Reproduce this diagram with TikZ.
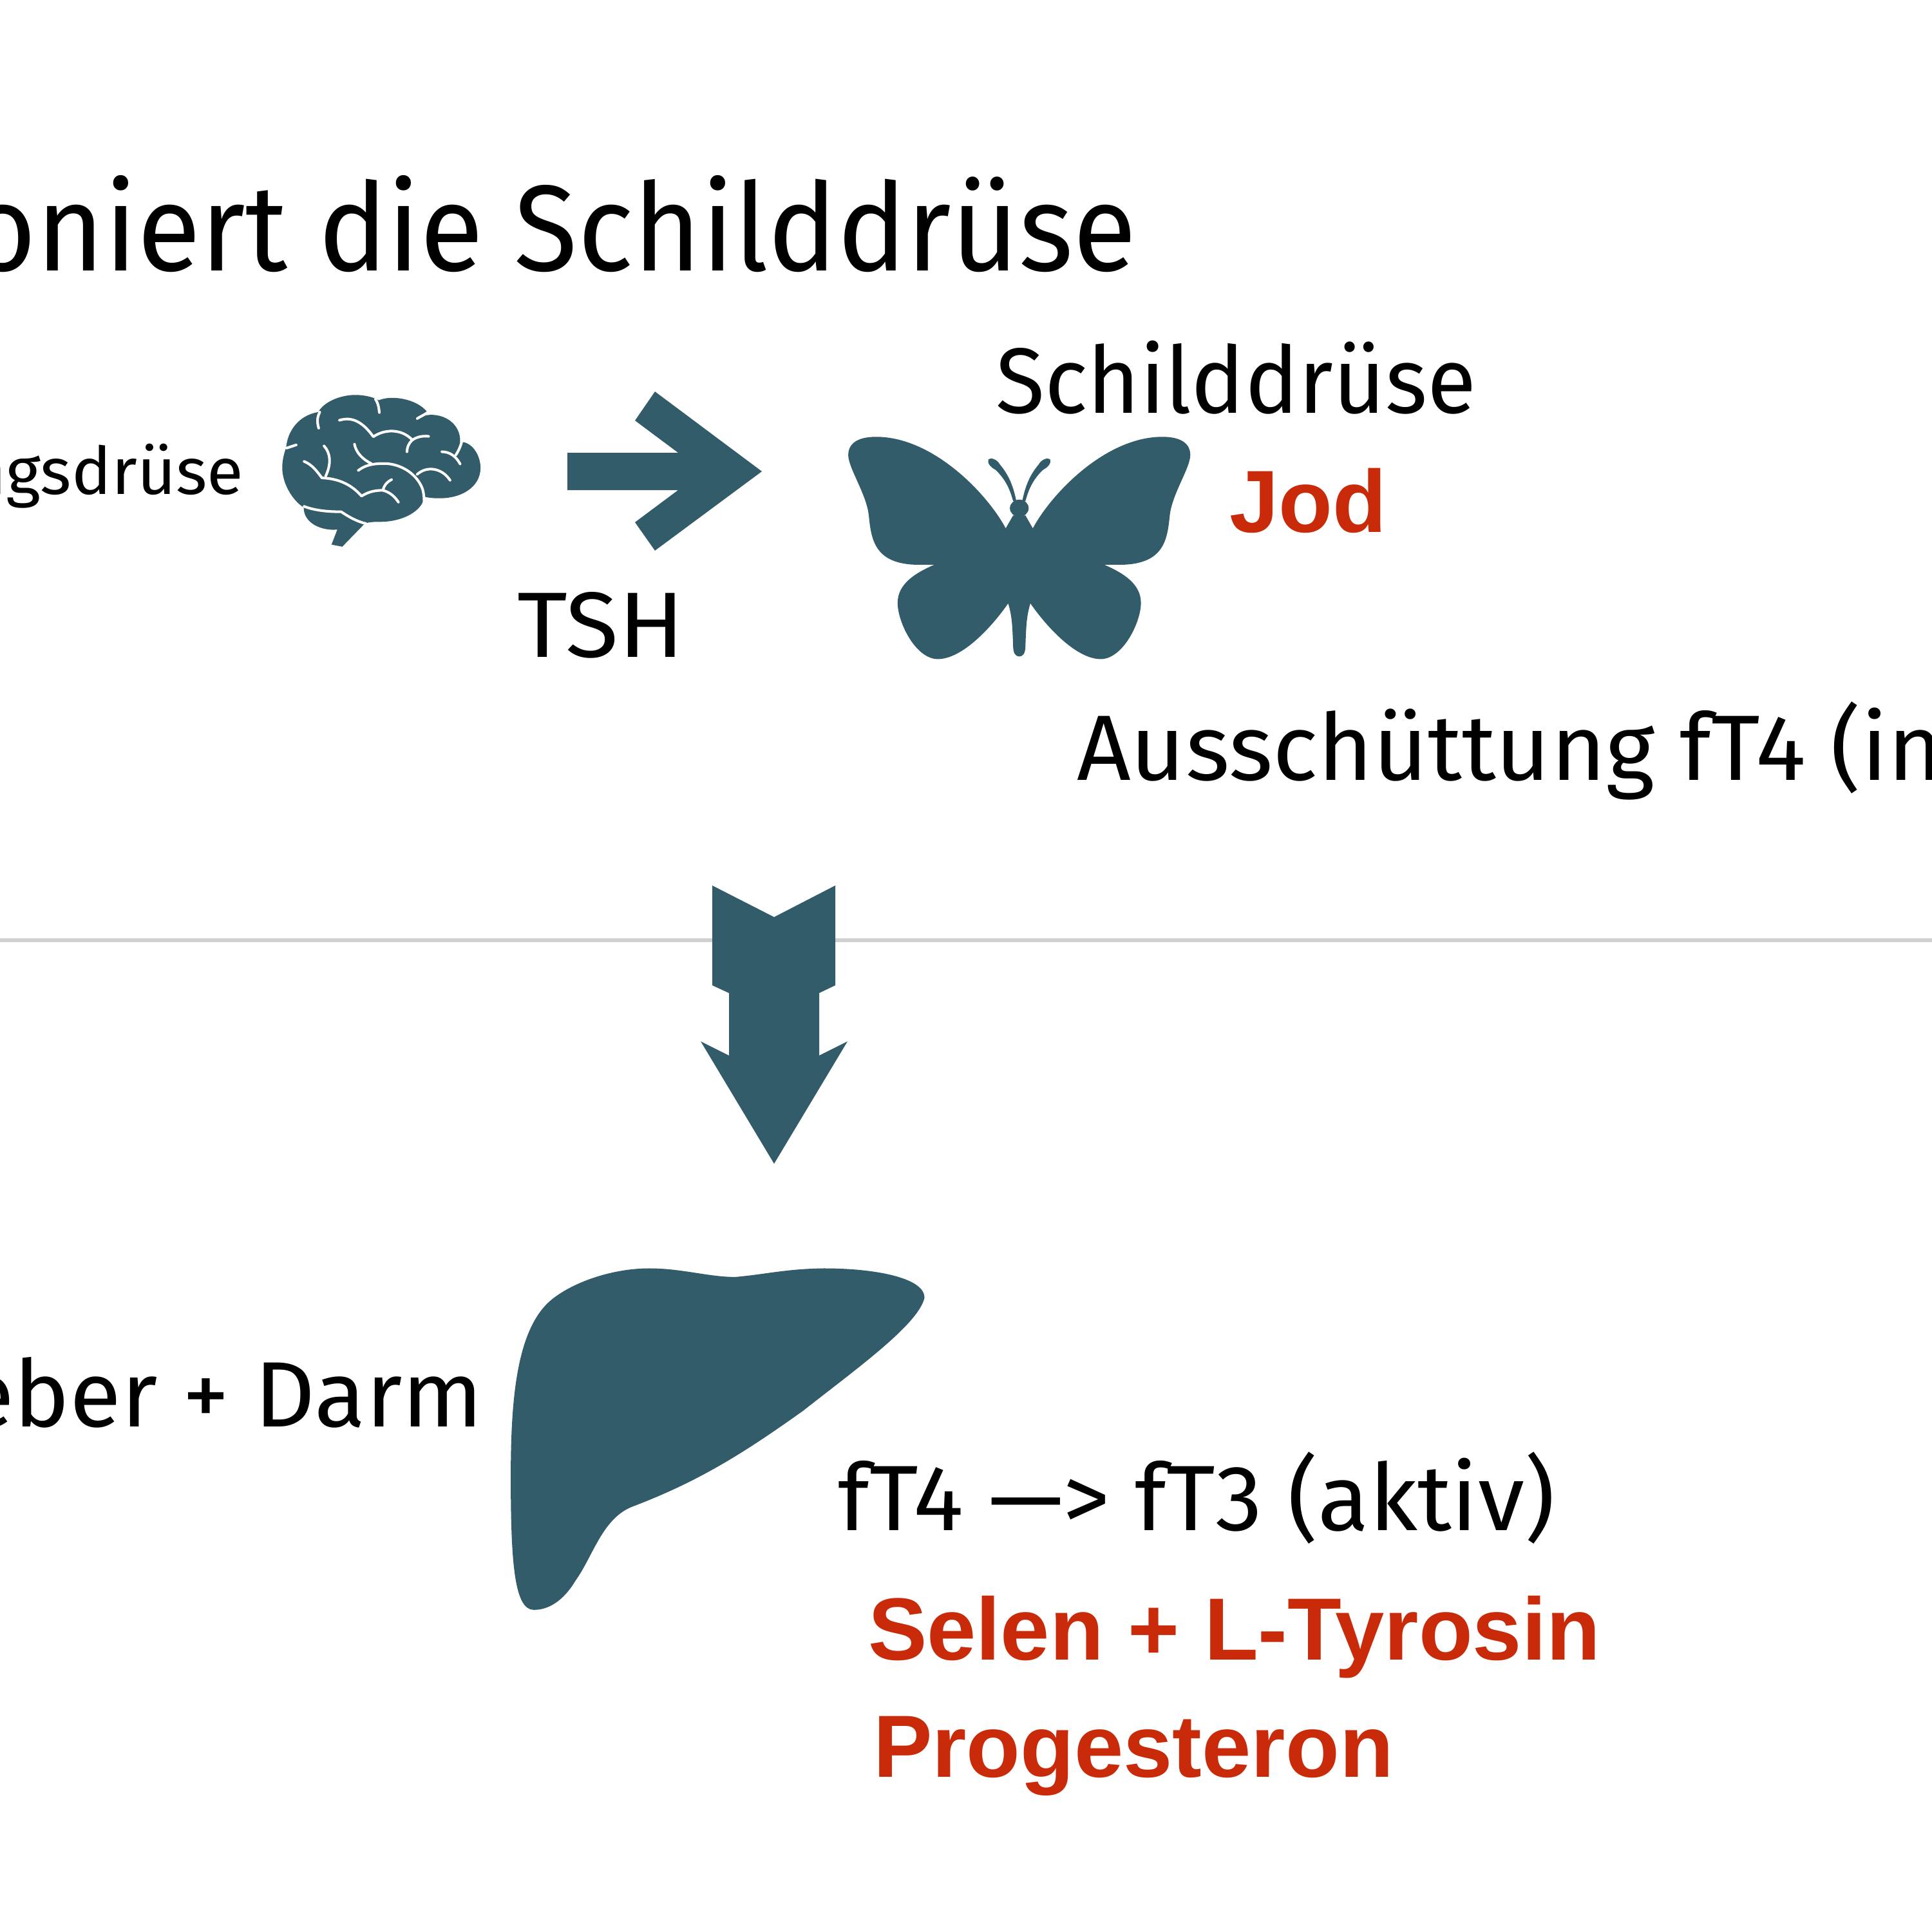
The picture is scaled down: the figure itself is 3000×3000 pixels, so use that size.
\documentclass[tikz,border=0pt]{standalone}
\usepackage{fontspec}
\setmainfont{Fira Sans}[FakeStretch=0.95]
\newfontfamily\widefont{Fira Sans}[FakeStretch=1.015]
\newfontfamily\thyfont{Fira Sans}[FakeStretch=0.967]
\newfontfamily\tshfont{Fira Sans}[FakeStretch=1.045]
\newfontfamily\redfont{Liberation Sans}[BoldFont={Liberation Sans Bold}]
\definecolor{icon}{HTML}{325C6A}
\definecolor{mark}{HTML}{C92A09}
\definecolor{rule}{HTML}{D0D0D0}

\begin{document}
\begin{tikzpicture}[x=0.01cm,y=-0.01cm]
    \tikzstyle{every node}=[inner sep=0pt,outer sep=0pt]
    \tikzstyle{title}=[font=\fontsize{54}{60}\selectfont]
    \tikzstyle{small label}=[font=\widefont\fontsize{29}{32}\selectfont]
    \tikzstyle{label}=[font=\widefont\fontsize{41}{46}\selectfont]
    \tikzstyle{note}=[font=\redfont\bfseries\fontsize{39}{44}\selectfont,text=mark]
    \tikzstyle{icon shape}=[fill=icon,draw=none]
    \tikzstyle{sulcus}=[draw=white,line width=1.15pt,line cap=round,line join=round]

    \useasboundingbox (0,0) rectangle (3000,3000);

    % Horizontal rule, the big arrow stands on it
    \draw[rule,line width=1.5pt] (0,1460) -- (3000,1460);

    % Texts
    \node[title,anchor=base east] (head) at (1765,420) {oniert die Schilddrüse};
    \node[small label,anchor=base east] (pit) at (378,767) {ngsdrüse};
    \node[label,font=\thyfont\fontsize{41}{46}\selectfont,anchor=base west] (thy) at (1546,641) {Schilddrüse};
    \node[note,anchor=base west] (jod) at (1909,826) {Jod};
    \node[label,font=\tshfont\fontsize{41}{46}\selectfont,anchor=base west] (tsh) at (803,1020) {TSH};
    \node[label,anchor=base west] (out) at (1672,1211) {Ausschüttung fT4 (in};
    \node[label,anchor=base east] (liv) at (750,2215) {eber + Darm};
    \node[label,anchor=base west] (conv) at (1301,2376) {fT4 —> fT3 (aktiv)};
    \node[note,anchor=base west] (sel) at (1348,2577) {Selen + L-Tyrosin};
    \node[note,anchor=base west] (pro) at (1356,2759) {Progesteron};

    % Arrow from the brain to the butterfly
    \fill[icon] (881,703) -- (1053,703) -- (986,653) -- (1017,608) -- (1183,732)
        -- (1017,855) -- (986,811) -- (1053,761) -- (881,761) -- cycle;

    % Arrow down to the liver
    \fill[icon] (1106,1375) -- (1202,1424) -- (1297,1375) -- (1297,1530) -- (1272,1542)
        -- (1272,1639) -- (1316,1617) -- (1202,1807) -- (1088,1617) -- (1132,1639)
        -- (1132,1542) -- (1106,1530) -- cycle;

    % Brain
    \begin{scope}[shift={(400,580)},x=0.003333cm,y=-0.003333cm]
        \path[icon shape] (345,798) -- (372,728) .. controls (300,735) and (215,700) .. (215,625)
            .. controls (160,590) and (115,510) .. (115,440)
            .. controls (115,400) and (125,370) .. (133,345)
            .. controls (140,270) and (190,195) .. (283,180)
            .. controls (310,130) and (390,100) .. (455,100)
            .. controls (510,100) and (550,115) .. (565,125)
            .. controls (620,100) and (740,115) .. (792,180)
            -- (770,198) .. controls (860,175) and (950,230) .. (945,322)
            -- (960,320) .. controls (1010,330) and (1040,390) .. (1040,440)
            .. controls (1040,530) and (950,585) .. (840,582)
            .. controls (820,582) and (800,580) .. (778,575)
            .. controls (770,640) and (680,692) .. (570,692)
            .. controls (550,692) and (520,692) .. (500,700) -- (395,808) -- cycle;
        \draw[sulcus] (285,255) .. controls (275,220) and (280,200) .. (290,180);
        \draw[sulcus] (568,182) .. controls (565,150) and (560,135) .. (550,120);
        \draw[sulcus] (745,210) .. controls (760,200) and (775,195) .. (795,180);
        \draw[sulcus] (135,348) -- (180,333);
        \draw[sulcus] (382,218) .. controls (440,200) and (490,225) .. (540,295)
            .. controls (590,260) and (670,255) .. (722,310)
            .. controls (745,295) and (770,290) .. (798,293);
        \draw[sulcus] (722,310) .. controls (705,325) and (697,345) .. (697,365);
        \draw[sulcus] (952,320) .. controls (945,345) and (935,365) .. (925,380);
        \draw[sulcus] (860,365) .. controls (895,365) and (925,385) .. (945,422);
        \draw[sulcus] (452,330) .. controls (460,370) and (490,400) .. (530,420);
        \draw[sulcus] (470,452) .. controls (500,430) and (530,420) .. (590,420)
            .. controls (670,420) and (745,470) .. (770,540)
            .. controls (778,570) and (778,600) .. (775,620);
        \draw[sulcus] (745,470) .. controls (790,430) and (860,440) .. (898,498);
        \draw[sulcus] (310,338) .. controls (340,370) and (345,420) .. (318,478);
        \draw[sulcus] (217,410) .. controls (255,425) and (280,460) .. (300,487)
            .. controls (380,490) and (440,520) .. (485,572)
            .. controls (520,550) and (550,545) .. (585,545)
            .. controls (620,555) and (640,575) .. (657,600);
        \draw[sulcus] (585,545) .. controls (590,520) and (605,505) .. (625,495);
        \draw[sulcus] (217,620) .. controls (270,640) and (330,645) .. (390,645)
            .. controls (420,665) and (460,690) .. (505,700);
    \end{scope}

    % Butterfly
    \begin{scope}[shift={(1280,650)},x=0.003827cm,y=-0.003333cm]
        \path[icon shape] (735,512) .. controls (660,350) and (440,85) .. (210,85)
            .. controls (130,85) and (97,120) .. (97,170)
            .. controls (97,230) and (170,350) .. (180,450)
            .. controls (190,560) and (200,680) .. (380,682) -- (445,682)
            .. controls (370,720) and (297,770) .. (297,860)
            .. controls (297,950) and (370,1122) .. (460,1122)
            .. controls (560,1122) and (680,970) .. (745,862)
            .. controls (760,920) and (762,960) .. (765,1060)
            .. controls (765,1095) and (775,1110) .. (790,1110)
            .. controls (805,1110) and (815,1095) .. (815,1060)
            .. controls (818,960) and (820,920) .. (835,862)
            .. controls (900,970) and (1020,1122) .. (1120,1122)
            .. controls (1210,1122) and (1283,950) .. (1283,860)
            .. controls (1283,770) and (1210,720) .. (1135,682) -- (1200,682)
            .. controls (1380,680) and (1390,560) .. (1400,450)
            .. controls (1410,350) and (1483,230) .. (1483,170)
            .. controls (1483,120) and (1450,85) .. (1370,85)
            .. controls (1140,85) and (920,350) .. (845,512)
            -- (815,452) -- (765,452) -- cycle;
        \path[icon shape] (790,418) ellipse (38 and 40);
        \path[icon shape] (778,385) .. controls (765,310) and (745,260) .. (712,215)
            .. controls (700,190) and (675,180) .. (665,190)
            .. controls (660,205) and (670,225) .. (695,240)
            .. controls (730,280) and (750,320) .. (765,385) -- cycle;
        \path[icon shape] (802,385) .. controls (815,310) and (835,260) .. (868,215)
            .. controls (880,190) and (905,180) .. (915,190)
            .. controls (920,205) and (910,225) .. (885,240)
            .. controls (850,280) and (830,320) .. (815,385) -- cycle;
    \end{scope}

    % Liver
    \begin{scope}[shift={(760,1930)},x=0.004591cm,y=-0.003827cm]
        \path[icon shape] (830,138) .. controls (930,128) and (1000,105) .. (1130,103)
            .. controls (1300,103) and (1470,140) .. (1470,222)
            .. controls (1450,330) and (1240,510) .. (1060,680)
            .. controls (850,860) and (700,970) .. (480,1070)
            .. controls (380,1120) and (350,1270) .. (290,1370)
            .. controls (250,1450) and (200,1487) .. (150,1487)
            .. controls (85,1487) and (72,1300) .. (72,950)
            .. controls (72,640) and (90,340) .. (215,225)
            .. controls (290,155) and (420,103) .. (540,103)
            .. controls (650,103) and (740,138) .. (830,138) -- cycle;
    \end{scope}
\end{tikzpicture}
\end{document}
